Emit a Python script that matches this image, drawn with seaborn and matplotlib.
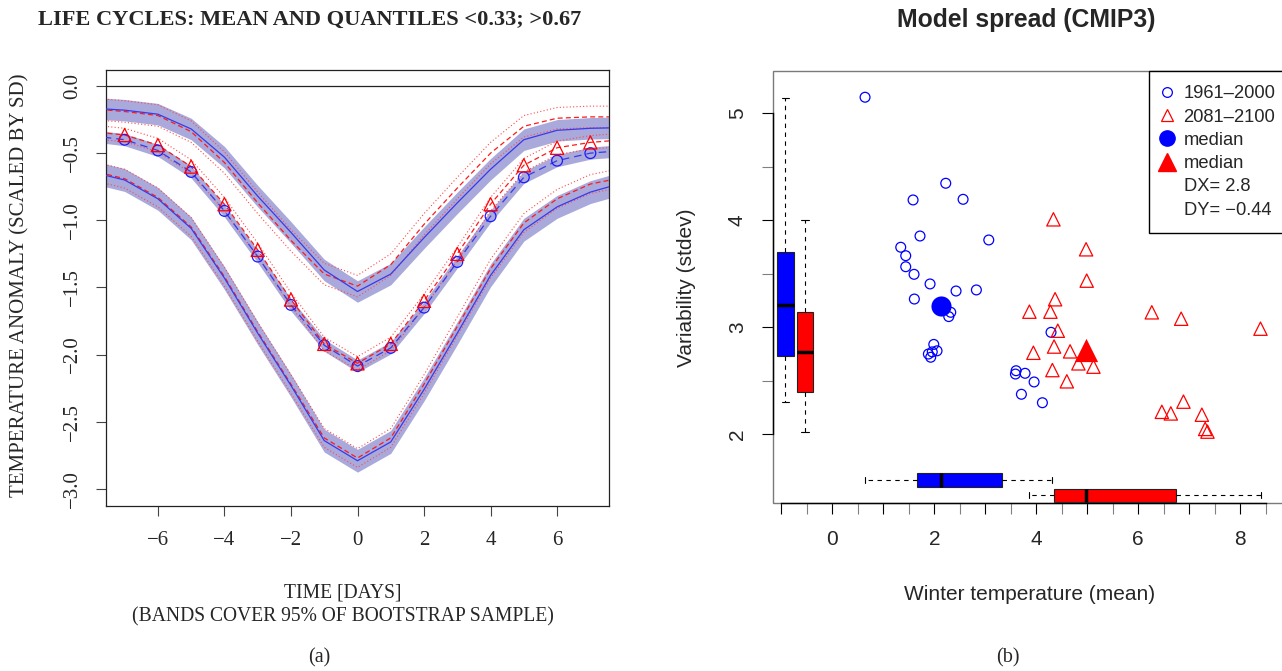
import numpy as np
import pandas as pd
import matplotlib
matplotlib.use("Agg")
import matplotlib.pyplot as plt
import seaborn as sns
from matplotlib.lines import Line2D
from matplotlib.patches import Rectangle
from matplotlib.ticker import FixedLocator, FixedFormatter

# ---------------- data: panel (a) life cycles ----------------
days = [-8, -7, -6, -5, -4, -3, -2, -1, 0, 1, 2, 3, 4, 5, 6, 7, 8]
upper_blue = [-0.165, -0.18, -0.21, -0.32, -0.53, -0.82, -1.09, -1.37, -1.53,
              -1.40, -1.13, -0.87, -0.62, -0.40, -0.33, -0.315, -0.31]
upper_red = [-0.17, -0.19, -0.22, -0.34, -0.57, -0.87, -1.15, -1.40, -1.49,
             -1.33, -1.03, -0.76, -0.50, -0.30, -0.24, -0.23, -0.23]
mean_blue = [-0.37, -0.40, -0.48, -0.64, -0.93, -1.27, -1.63, -1.93, -2.085,
             -1.95, -1.65, -1.31, -0.97, -0.68, -0.556, -0.50, -0.48]
mean_red = [-0.34, -0.365, -0.44, -0.60, -0.88, -1.22, -1.59, -1.92, -2.065,
            -1.92, -1.60, -1.25, -0.88, -0.59, -0.46, -0.42, -0.40]
lower_blue = [-0.64, -0.70, -0.84, -1.06, -1.43, -1.84, -2.23, -2.64, -2.79,
              -2.65, -2.26, -1.84, -1.41, -1.07, -0.90, -0.79, -0.72]
lower_red = [-0.63, -0.69, -0.83, -1.05, -1.42, -1.83, -2.22, -2.62, -2.77,
             -2.62, -2.22, -1.79, -1.36, -1.02, -0.84, -0.73, -0.68]
band_halfwidth = [0.08, 0.045, 0.085]   # blue bootstrap bands (upper, mean, lower)
red_spread = [0.08, 0.05, 0.07]         # red dotted bands

# ---------------- data: panel (b) model spread ----------------
hist_x = [0.642, 2.225, 1.584, 2.565, 1.72, 3.069, 1.342, 1.44, 1.44, 1.603,
          1.917, 2.427, 2.826, 1.609, 2.323, 2.284, 4.29, 1.99, 2.054, 1.884,
          1.93, 1.96, 3.605, 3.592, 3.781, 3.958, 3.709, 4.121]
hist_y = [5.15, 4.346, 4.19, 4.196, 3.853, 3.816, 3.748, 3.669, 3.566, 3.495,
          3.405, 3.339, 3.349, 3.264, 3.14, 3.10, 2.953, 2.84, 2.78, 2.75,
          2.72, 2.77, 2.594, 2.563, 2.57, 2.489, 2.374, 2.295]
fut_x = [4.337, 4.978, 4.99, 4.37, 3.866, 4.278, 6.267, 6.843, 8.399, 4.423,
         4.35, 3.944, 4.664, 4.827, 5.122, 4.317, 4.6, 6.888, 6.464, 6.64,
         7.249, 7.314, 7.359]
fut_y = [4.009, 3.729, 3.436, 3.262, 3.146, 3.146, 3.14, 3.08, 2.987, 2.968,
         2.82, 2.762, 2.775, 2.663, 2.632, 2.60, 2.495, 2.305, 2.21, 2.195,
         2.183, 2.05, 2.025]
median_x = [2.133, 4.98]
median_y = [3.20, 2.785]
# five-number summaries: whislo, q1, median, q3, whishi
box_y_hist = [2.30, 2.735, 3.206, 3.707, 5.146]
box_y_fut = [2.02, 2.393, 2.77, 3.14, 4.0]
box_x_hist = [0.642, 1.668, 2.133, 3.336, 4.305]
box_x_fut = [3.866, 4.357, 4.98, 6.745, 8.41]
legend_labels = ["1961\u20132000", "2081\u20132100", "median", "median",
                 "DX= 2.8", "DY= \u22120.44"]

# ---------------- figure ----------------
sns.set_theme(style="white")
plt.rcParams["font.family"] = ["Liberation Sans", "DejaVu Sans"]
plt.rcParams["axes.unicode_minus"] = True

W, H = 1282, 671
fig = plt.figure(figsize=(W / 100, H / 100), dpi=100)
fig.patch.set_facecolor("white")

SERIF = ["Liberation Serif", "DejaVu Serif"]
SANS = ["Liberation Sans", "DejaVu Sans"]

# ======== panel (a) ========
ax1 = fig.add_axes([106 / W, 1 - 506 / H, 503 / W, 436 / H])
ax1.set_facecolor("white")
band_col = "#a9a9dc"
line_blue = "#3a3ae6"
curves = [(upper_blue, upper_red, band_halfwidth[0], red_spread[0], "-"),
          (mean_blue, mean_red, band_halfwidth[1], red_spread[1], (0, (6, 4))),
          (lower_blue, lower_red, band_halfwidth[2], red_spread[2], "-")]
d = np.array(days, dtype=float)
for blue, red, hw, rs, ls in curves:
    b = np.array(blue)
    r = np.array(red)
    ax1.fill_between(d, b - hw, b + hw, color=band_col, lw=0, zorder=1)
    for off in (-rs, rs):
        sns.lineplot(x=d, y=r + off, ax=ax1, color="#ff4a4a", lw=0.8,
                     linestyle=(0, (1, 2)), zorder=2, sort=False, estimator=None)
    sns.lineplot(x=d, y=r, ax=ax1, color="#ff1a1a", lw=0.9,
                 linestyle=(0, (4, 2.5)), zorder=3, sort=False, estimator=None)
    sns.lineplot(x=d, y=b, ax=ax1, color=line_blue, lw=0.9, linestyle=ls,
                 zorder=4, sort=False, estimator=None)

ax1.axhline(0, color="#222222", lw=0.9, zorder=2)
mk_days = d[1:-1]
ax1.scatter(mk_days, np.array(mean_blue)[1:-1], s=60, marker="o",
            facecolors="none", edgecolors="#1a1aff", linewidths=0.9, zorder=5)
ax1.scatter(mk_days, np.array(mean_red)[1:-1], s=90, marker="^",
            facecolors="none", edgecolors="#ff0000", linewidths=0.9, zorder=6)

ax1.set_xlim(-7.56, 7.56)
ax1.set_ylim(-3.127, 0.119)
ax1.set_xticks([-6, -4, -2, 0, 2, 4, 6])
ax1.set_yticks([0.0, -0.5, -1.0, -1.5, -2.0, -2.5, -3.0])
ax1.set_yticklabels(["0.0", "\u22120.5", "\u22121.0", "\u22121.5", "\u22122.0",
                     "\u22122.5", "\u22123.0"])
ax1.set_xticklabels(["\u22126", "\u22124", "\u22122", "0", "2", "4", "6"])
ax1.tick_params(axis="both", direction="out", length=7, width=0.8,
                color="#444444", labelsize=15, bottom=True, left=True)
ax1.tick_params(axis="x", pad=11)
ax1.tick_params(axis="y", pad=10, labelrotation=90)
for lab in ax1.get_xticklabels() + ax1.get_yticklabels():
    lab.set_fontfamily(SERIF)
for lab in ax1.get_yticklabels():
    lab.set_va("center")
for sp in ax1.spines.values():
    sp.set_color("#222222")
    sp.set_linewidth(0.9)
ax1.set_xlabel("")
ax1.set_ylabel("")
ax1.grid(False)

fig.text(310 / W, 1 - 20 / H, "LIFE CYCLES: MEAN AND QUANTILES <0.33; >0.67",
         ha="center", va="center", fontsize=16.1, fontweight="bold", family=SERIF)
fig.text(20 / W, 1 - 285 / H, "TEMPERATURE ANOMALY (SCALED BY SD)", rotation=90,
         ha="center", va="center", fontsize=15, family=SERIF)
fig.text(343 / W, 1 - 593 / H, "TIME [DAYS]", ha="center", va="center",
         fontsize=14.1, family=SERIF)
fig.text(343 / W, 1 - 617 / H, "(BANDS COVER 95% OF BOOTSTRAP SAMPLE)",
         ha="center", va="center", fontsize=14.1, family=SERIF)
fig.text(319 / W, 1 - 658 / H, "(a)", ha="center", va="center", fontsize=14.5,
         family=SERIF)
fig.text(1008 / W, 1 - 658 / H, "(b)", ha="center", va="center", fontsize=14.5,
         family=SERIF)

# ======== panel (b) ========
ax2 = fig.add_axes([773.3 / W, 1 - 503.3 / H, (1285 - 773.3) / W, (503.3 - 70.7) / H])
ax2.set_facecolor("white")
ax2.set_xlim(-1.158, 8.88)
ax2.set_ylim(1.355, 5.398)


def stats(v):
    return dict(whislo=v[0], q1=v[1], med=v[2], q3=v[3], whishi=v[4], fliers=[])


box_kw = dict(showfliers=False, patch_artist=True,
              whiskerprops=dict(color="black", lw=0.8, linestyle=(0, (4, 4))),
              capprops=dict(color="black", lw=0.8),
              medianprops=dict(color="black", lw=2.5, solid_capstyle="butt"))
for v, pos, col in [(box_y_hist, -0.92, "#0000ff"), (box_y_fut, -0.536, "#ff0000")]:
    bp = ax2.bxp([stats(v)], positions=[pos], widths=[0.32], capwidths=[0.15],
                 orientation="vertical", manage_ticks=False,
                 boxprops=dict(facecolor=col, edgecolor="#222222", lw=0.8), **box_kw)
for v, pos, col in [(box_x_hist, 1.573, "#0000ff"), (box_x_fut, 1.43, "#ff0000")]:
    bp = ax2.bxp([stats(v)], positions=[pos], widths=[0.122], capwidths=[0.06],
                 orientation="horizontal", manage_ticks=False,
                 boxprops=dict(facecolor=col, edgecolor="#222222", lw=0.8), **box_kw)

ax2.scatter(hist_x, hist_y, s=50, marker="o", facecolors="none",
            edgecolors="#0000ff", linewidths=0.9, zorder=5)
ax2.scatter(fut_x, fut_y, s=92, marker="^", facecolors="none",
            edgecolors="#ff0000", linewidths=0.9, zorder=5)
sns.scatterplot(x=[median_x[0]], y=[median_y[0]], ax=ax2, marker="o", s=210,
                color="#0000ff", edgecolor="#0000ff", linewidth=0, zorder=6)
sns.scatterplot(x=[median_x[1]], y=[median_y[1]], ax=ax2, marker="^", s=280,
                color="#ff0000", edgecolor="#ff0000", linewidth=0, zorder=6)

major_x = list(range(-1, 9))
ax2.xaxis.set_major_locator(FixedLocator(major_x))
ax2.xaxis.set_major_formatter(FixedFormatter([str(v) if v % 2 == 0 and v >= 0 else ""
                                              for v in major_x]))
ax2.xaxis.set_minor_locator(FixedLocator([v + 0.5 for v in range(-1, 9)]))
ax2.yaxis.set_major_locator(FixedLocator([2, 3, 4, 5]))
ax2.yaxis.set_major_formatter(FixedFormatter(["2", "3", "4", "5"]))
ax2.yaxis.set_minor_locator(FixedLocator([2.5, 3.5, 4.5]))
ax2.tick_params(which="both", direction="out", length=8, width=0.8,
                bottom=True, left=True, labelsize=15)
ax2.tick_params(which="major", color="black")
ax2.tick_params(which="minor", color="#808080")
ax2.tick_params(axis="x", which="major", pad=11)
ax2.tick_params(axis="y", which="major", pad=11, labelrotation=90)
for lab in ax2.get_yticklabels():
    lab.set_va("center")
for sp in ("top", "right"):
    ax2.spines[sp].set_visible(False)
ax2.spines["left"].set_bounds(2, 5)
ax2.spines["bottom"].set_bounds(-1, 8.5)
for sp in ("left", "bottom"):
    ax2.spines[sp].set_color("black")
    ax2.spines[sp].set_linewidth(1.0)
    ax2.spines[sp].set_zorder(3)
ax2.add_patch(Rectangle((0, 0), 1, 1, transform=ax2.transAxes, fill=False,
                        edgecolor="#7a7a7a", lw=1.0, clip_on=False, zorder=2))
ax2.grid(False)
ax2.set_xlabel("")
ax2.set_ylabel("")

handles = [
    Line2D([], [], ls="none", marker="o", mfc="none", mec="#0000ff", ms=7, mew=0.9),
    Line2D([], [], ls="none", marker="^", mfc="none", mec="#ff0000", ms=9, mew=0.9),
    Line2D([], [], ls="none", marker="o", mfc="#0000ff", mec="#0000ff", ms=11),
    Line2D([], [], ls="none", marker="^", mfc="#ff0000", mec="#ff0000", ms=13),
    Line2D([], [], ls="none"),
    Line2D([], [], ls="none"),
]
leg = ax2.legend(handles, legend_labels, loc="upper right",
                 bbox_to_anchor=(1.01, 1), borderaxespad=0, frameon=True,
                 fancybox=False, framealpha=1, edgecolor="black",
                 handlelength=0.36, handletextpad=0.75, labelspacing=0.34,
                 borderpad=0.8, prop={"family": SANS, "size": 13.2})
leg.get_frame().set_linewidth(1.0)
leg.set_zorder(10)

fig.text(1026 / W, 1 - 20 / H, "Model spread (CMIP3)", ha="center", va="center",
         fontsize=17.8, fontweight="bold", family=SANS)
fig.text(1029.5 / W, 1 - 595 / H, "Winter temperature (mean)", ha="center",
         va="center", fontsize=15, family=SANS)
fig.text(686 / W, 1 - 288 / H, "Variability (stdev)", rotation=90, ha="center",
         va="center", fontsize=15, family=SANS)

fig.savefig("out.png", dpi=100, facecolor="white")
